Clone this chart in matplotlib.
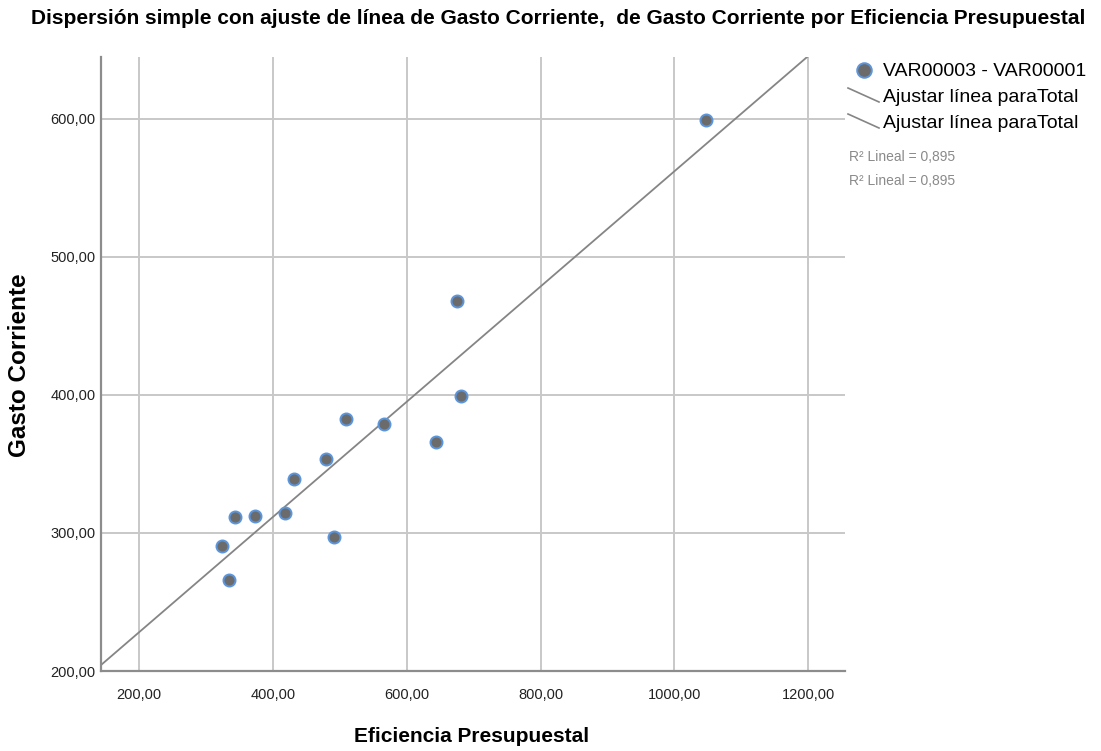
import numpy as np
import matplotlib
matplotlib.use("Agg")
import matplotlib.pyplot as plt
from matplotlib.lines import Line2D

plt.rcParams["font.family"] = ["Liberation Sans", "DejaVu Sans"]

# ---- data ----
eficiencia = [674.9, 681.3, 509.7, 566.0, 643.9, 479.1, 431.8,
              343.8, 372.7, 418.3, 323.3, 490.6, 334.4, 1046.9]
gasto = [467.9, 398.8, 382.6, 378.8, 365.7, 353.4, 339.3,
         311.8, 312.3, 314.5, 290.8, 297.1, 265.9, 598.6]
x_ticks = [200, 400, 600, 800, 1000, 1200]
y_ticks = [200, 300, 400, 500, 600]
r2_text = "R² Lineal = 0,895"

TITLE = "Dispersión simple con ajuste de línea de Gasto Corriente,  de Gasto Corriente por Eficiencia Presupuestal"
GRID = "#c8c8c8"
SPINE = "#8c8c8c"


def fmt(v):
    return f"{v:.2f}".replace(".", ",")


fig = plt.figure(figsize=(11.01, 7.51), dpi=100)
ax = fig.add_axes([0.0917, 0.1065, 0.6758, 0.8175])

xs = np.array(eficiencia)
ys = np.array(gasto)
slope, intercept = np.polyfit(xs, ys, 1)

xmin, xmax = 143, 1255
ymin, ymax = 200, 644.5
line_x = np.array([xmin, xmax])
ax.plot(line_x, slope * line_x + intercept, color="#858585", linewidth=1.3, zorder=2)

ax.scatter(xs, ys, s=75, facecolor="#6b6b6b", edgecolor="#5b95dc",
           linewidth=1.4, zorder=3)

ax.set_xlim(xmin, xmax)
ax.set_ylim(ymin, ymax)
ax.set_xticks(x_ticks)
ax.set_yticks(y_ticks)
ax.set_xticklabels([fmt(v) for v in x_ticks], fontsize=10.5, color="#222222")
ax.set_yticklabels([fmt(v) for v in y_ticks], fontsize=10.5, color="#222222")
ax.tick_params(axis="y", length=0, pad=4)
ax.tick_params(axis="x", length=0, pad=12)
ax.grid(True, color=GRID, linewidth=1.4, zorder=0)
ax.set_axisbelow(True)
for side in ["top", "right"]:
    ax.spines[side].set_visible(False)
for side in ["left", "bottom"]:
    ax.spines[side].set_color(SPINE)
    ax.spines[side].set_linewidth(1.6)

fig.text(472 / 1101, 1 - 737 / 751, "Eficiencia Presupuestal", fontsize=15,
         fontweight="bold", ha="center", va="center")
fig.text(20 / 1101, 1 - 365 / 751, "Gasto Corriente", fontsize=17.5,
         fontweight="bold", ha="center", va="center", rotation=90)

fig.text(558 / 1101, 1 - 19 / 751, TITLE, ha="center", va="center",
         fontsize=15, fontweight="bold")

# ---- legend built by hand ----
fig.lines.append(Line2D([864 / 1101], [1 - 70 / 751], marker="o", markersize=10.5,
                        markerfacecolor="#6b6b6b", markeredgecolor="#5b95dc",
                        markeredgewidth=1.4, transform=fig.transFigure))
fig.text(883 / 1101, 1 - 72 / 751, "VAR00003 - VAR00001", fontsize=14, va="center")
for y0 in [88, 114]:
    fig.lines.append(Line2D([848 / 1101, 879 / 1101], [1 - y0 / 751, 1 - (y0 + 14) / 751],
                            color="#858585", linewidth=1.2, transform=fig.transFigure))
    fig.text(883 / 1101, 1 - (y0 + 10) / 751, "Ajustar línea paraTotal", fontsize=14, va="center")
for yy in [157, 181]:
    fig.text(849 / 1101, 1 - yy / 751, r2_text, fontsize=10, color="#8a8a8a", va="center")

fig.savefig("out.png", dpi=100)
